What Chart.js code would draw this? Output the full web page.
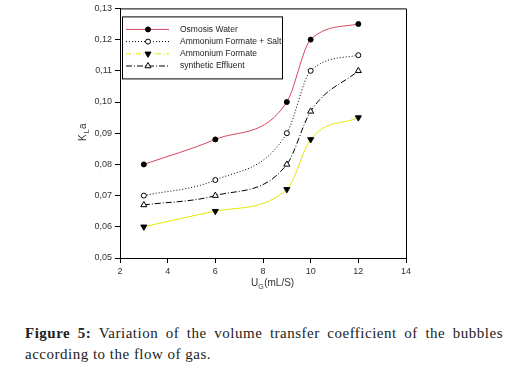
<!DOCTYPE html>
<html><head><meta charset="utf-8">
<script src="https://cdn.jsdelivr.net/npm/chart.js@4"></script>
<style>
body{margin:0;background:#fff;width:512px;height:370px;overflow:hidden;position:relative}
#c{position:absolute;left:0;top:0}
.cap{position:absolute;left:25px;width:478px;font-family:'Liberation Serif',serif;font-size:15px;color:#222;line-height:21px;white-space:nowrap;letter-spacing:0.5px}
</style></head><body>
<canvas id="c" width="512" height="300"></canvas>
<div class="cap" style="top:323px;text-align:justify;text-align-last:justify"><b>Figure 5:</b> Variation of the volume transfer coefficient of the bubbles</div>
<div class="cap" style="top:344px">according to the flow of gas.</div>
<script>
const flowRates = [3, 6, 9, 10, 12];
const osmosisWater = [0.080, 0.088, 0.100, 0.120, 0.125];
const formateSalt = [0.070, 0.075, 0.090, 0.110, 0.115];
const ammoniumFormate = [0.060, 0.065, 0.072, 0.088, 0.095];
const syntheticEffluent = [0.067, 0.070, 0.080, 0.097, 0.110];
const seriesNames = ['Osmosis Water', 'Ammonium Formate + Salt', 'Ammonium Formate', 'synthetic Effluent'];
const xTicks = [2, 4, 6, 8, 10, 12, 14];
const yTicks = [0.05, 0.06, 0.07, 0.08, 0.09, 0.10, 0.11, 0.12, 0.13];

const pts = arr => flowRates.map((x, i) => ({x, y: arr[i]}));
const base = {borderWidth: 1, fill: false, cubicInterpolationMode: 'monotone', pointBorderWidth: 1, pointBorderColor: '#000'};

const datasets = [
  Object.assign({}, base, {label: seriesNames[0], data: pts(osmosisWater), borderColor: '#d3455e', borderDash: [],
    pointStyle: 'circle', pointRadius: 2.5, pointBackgroundColor: '#000', pointRotation: 0}),
  Object.assign({}, base, {label: seriesNames[1], data: pts(formateSalt), borderColor: '#000', borderDash: [1, 2],
    pointStyle: 'circle', pointRadius: 2.5, pointBackgroundColor: '#fff', pointRotation: 0}),
  Object.assign({}, base, {label: seriesNames[2], data: pts(ammoniumFormate), borderColor: '#e6e600', borderDash: [],
    pointStyle: 'triangle', pointRadius: 3.5, pointBackgroundColor: '#000', pointRotation: 180}),
  Object.assign({}, base, {label: seriesNames[3], data: pts(syntheticEffluent), borderColor: '#000', borderDash: [6, 2, 1, 2],
    pointStyle: 'triangle', pointRadius: 3.5, pointBackgroundColor: '#fff', pointRotation: 0})
];
const legendDash = [[], [1, 2], [5, 2, 1, 2], [6, 2, 1, 2]];

const framePlugin = {
  id: 'frame',
  afterDraw(chart) {
    const {ctx, chartArea: a} = chart;
    ctx.save();
    ctx.strokeStyle = '#000'; ctx.lineWidth = 1;
    ctx.beginPath();
    ctx.moveTo(a.left, a.top + 0.5); ctx.lineTo(a.right + 0.5, a.top + 0.5); ctx.lineTo(a.right + 0.5, a.bottom);
    ctx.stroke();
    // legend box
    const lx = a.left + 2, ly = a.top + 8, lw = 160, lh = 62;
    ctx.fillStyle = '#fff';
    ctx.fillRect(lx, ly, lw, lh);
    ctx.strokeRect(lx + 0.5, ly + 0.5, lw, lh);
    ctx.font = '8.5px "Liberation Sans", Arial, sans-serif';
    ctx.textBaseline = 'middle';
    chart.data.datasets.forEach((ds, i) => {
      const y = ly + 13 + i * 12.2;
      ctx.save();
      ctx.strokeStyle = ds.borderColor; ctx.lineWidth = 1;
      ctx.setLineDash(legendDash[i]);
      ctx.beginPath(); ctx.moveTo(lx + 4, y); ctx.lineTo(lx + 47, y); ctx.stroke();
      ctx.setLineDash([]);
      ctx.fillStyle = ds.pointBackgroundColor; ctx.strokeStyle = '#000';
      Chart.helpers.drawPoint(ctx, {pointStyle: ds.pointStyle, rotation: ds.pointRotation, radius: ds.pointRadius, borderWidth: 1}, lx + 26, y);
      ctx.restore();
      ctx.fillStyle = '#222';
      ctx.fillText(ds.label, lx + 58, y);
    });
    // axis titles
    ctx.fillStyle = '#333';
    ctx.font = '10px "Liberation Sans", Arial, sans-serif';
    ctx.textBaseline = 'alphabetic';
    // x title U_G(mL/S)
    let x0 = 251, yb = 286;
    ctx.fillText('U', x0, yb);
    let w = ctx.measureText('U').width;
    ctx.font = '7px "Liberation Sans", Arial, sans-serif';
    ctx.fillText('G', x0 + w, yb + 3);
    let w2 = ctx.measureText('G').width;
    ctx.font = '10px "Liberation Sans", Arial, sans-serif';
    ctx.fillText('(mL/S)', x0 + w + w2 + 0.5, yb);
    // y title K_La
    ctx.save();
    ctx.translate(86, 141);
    ctx.rotate(-Math.PI / 2);
    ctx.fillText('K', 0, 0);
    w = ctx.measureText('K').width;
    ctx.font = '7px "Liberation Sans", Arial, sans-serif';
    ctx.fillText('L', w + 1, 3);
    w2 = ctx.measureText('L').width;
    ctx.font = '10px "Liberation Sans", Arial, sans-serif';
    ctx.fillText('a', w + w2 + 1.5, 0);
    ctx.restore();
    ctx.restore();
  }
};

const tickFont = {family: '"Liberation Sans", Arial, sans-serif', size: 9};
new Chart(document.getElementById('c'), {
  type: 'line',
  data: {datasets},
  options: {
    responsive: false, animation: false, devicePixelRatio: 1,
    layout: {padding: {top: 8, right: 106, left: 0, bottom: 0}},
    plugins: {legend: {display: false}, tooltip: {enabled: false}},
    scales: {
      x: {
        type: 'linear', min: 2, max: 14,
        afterBuildTicks: s => { s.ticks = xTicks.map(v => ({value: v})); },
        afterFit: s => { s.height = 42; },
        grid: {display: true, drawOnChartArea: false, drawTicks: true, tickLength: 5, color: '#000'},
        border: {display: true, color: '#000', width: 1},
        ticks: {font: tickFont, color: '#333', padding: 3, maxRotation: 0}
      },
      y: {
        type: 'linear', min: 0.05, max: 0.13,
        afterBuildTicks: s => { s.ticks = yTicks.map(v => ({value: v})); },
        afterFit: s => { s.width = 120; },
        grid: {display: true, drawOnChartArea: false, drawTicks: true, tickLength: 5, color: '#000'},
        border: {display: true, color: '#000', width: 1},
        ticks: {font: tickFont, color: '#333', padding: 3, callback: v => v.toFixed(2).replace('.', ',')}
      }
    }
  },
  plugins: [framePlugin]
});
</script>
</body></html>
